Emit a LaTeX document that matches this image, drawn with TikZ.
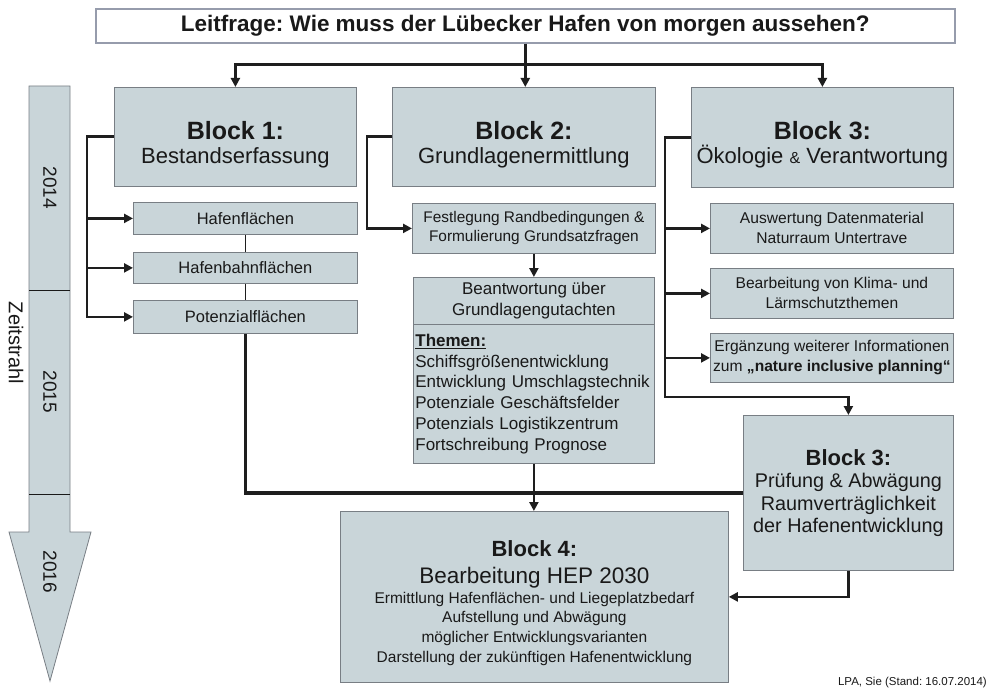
\documentclass[tikz,border=0pt]{standalone}
\usepackage{fontspec}
\setmainfont{Liberation Sans}
\usetikzlibrary{arrows.meta,calc}
\definecolor{boxfill}{RGB}{201,213,217}
\definecolor{boxline}{RGB}{120,126,132}
\definecolor{titleline}{RGB}{150,156,172}
\definecolor{ink}{RGB}{25,25,25}
\definecolor{wirecol}{RGB}{30,30,30}
\newcommand{\fs}[2]{\fontsize{#1}{#2}\selectfont}
\begin{document}
\frenchspacing
\begin{tikzpicture}[x=1pt,y=-1pt,
  box/.style={draw=boxline, line width=0.8pt, fill=boxfill, text=ink, align=center, inner sep=0pt, anchor=north west},
  bigbox/.style={box, font=\fs{22}{26}, text height=57pt},
  wire/.style={draw=wirecol, line width=2.8pt},
  arr/.style={wire, -{Triangle[length=9pt,width=9pt]}},
  thinwire/.style={draw=wirecol, line width=1.6pt}]
\useasboundingbox (0,0) rectangle (988,698);

% timeline
\draw[draw=boxline, line width=0.8pt, fill=boxfill] (29,86) -- (70,86) -- (70,532) -- (91,532) -- (50,681) -- (9,532) -- (29,532) -- cycle;
\draw[line width=1pt, ink] (29,290) -- (70,290);
\draw[line width=1pt, ink] (29,494) -- (70,494);
\node[rotate=-90, text=ink, font=\fs{19}{22}] (y14) at (50,188) {2014};
\node[rotate=-90, text=ink, font=\fs{19}{22}] (y15) at (50,392) {2015};
\node[rotate=-90, text=ink, font=\fs{19}{22}] (y16) at (50,572) {2016};
\node[rotate=-90, text=ink, font=\fs{20}{23}] (zs) at (16,343) {Zeitstrahl};

% title
\node[draw=titleline, line width=1.6pt, fill=white, text=ink, minimum width=859pt, minimum height=34pt, anchor=north west, inner sep=0pt, font=\fs{22.5}{26}\bfseries] (title) at (95,8) {Leitfrage: Wie muss der Lübecker Hafen von morgen aussehen?};

% blocks
\node[bigbox, minimum width=242pt, minimum height=99pt] (b1) at (114,87)
  {{\fs{25}{26}\bfseries Block 1:}\\[-2pt]Bestandserfassung};
\node[bigbox, minimum width=263pt, minimum height=99pt] (b2) at (392,87)
  {{\fs{25}{26}\bfseries Block 2:}\\[-2pt]Grundlagenermittlung};
\node[bigbox, minimum width=262pt, minimum height=100pt] (b3) at (691,87)
  {{\fs{25}{26}\bfseries Block 3:}\\[-2pt]Ökologie {\fs{16}{16}\&} Verantwortung};

\node[box, minimum width=224pt, minimum height=32pt, font=\fs{16.5}{20}] (hf) at (133,202) {Hafenflächen};
\node[box, minimum width=224pt, minimum height=31pt, font=\fs{16.5}{20}] (hb) at (133,252) {Hafenbahnflächen};
\node[box, minimum width=224pt, minimum height=33pt, font=\fs{16.5}{20}] (pf) at (133,300) {Potenzialflächen};

\node[box, minimum width=243pt, minimum height=50pt, font=\fs{15.4}{19}] (fest) at (412,203)
  {Festlegung Randbedingungen \&\\Formulierung Grundsatzfragen};
\node[box, minimum width=241pt, minimum height=47pt, font=\fs{17}{21}] (btop) at (413,277)
  {Beantwortung über\\Grundlagengutachten};
\node[box, align=left, text width=237pt, inner xsep=2pt, minimum height=139pt, font=\fs{17}{20.7}] (themen) at (413,324)
  {\underline{\textbf{Themen:}}\\Schiffsgrößenentwicklung\\Entwicklung Umschlagstechnik\\Potenziale Geschäftsfelder\\Potenzials Logistikzentrum\\Fortschreibung Prognose};

\node[box, minimum width=243pt, minimum height=50pt, font=\fs{15.6}{20}] (r1) at (710,203)
  {Auswertung Datenmaterial\\Naturraum Untertrave};
\node[box, minimum width=243pt, minimum height=50pt, font=\fs{15.6}{20}] (r2) at (710,268)
  {Bearbeitung von Klima- und\\Lärmschutzthemen};
\node[box, minimum width=243pt, minimum height=49pt, font=\fs{15.6}{20}] (r3) at (710,333)
  {Ergänzung weiterer Informationen\\zum \textbf{„nature inclusive planning“}};

\node[box, minimum width=210pt, minimum height=155pt, font=\fs{19.8}{22.5}] (b3b) at (743,415)
  {{\fs{22}{22.5}\bfseries Block 3:}\\Prüfung \& Abwägung\\Raumverträglichkeit\\der Hafenentwicklung};

\node[box, minimum width=388pt, minimum height=171pt, font=\fs{15.5}{19.7}, text height=134pt] (b4) at (340,511)
  {{\fs{22}{24}\bfseries Block 4:}\\[7pt]{\fs{22.5}{24}Bearbeitung HEP 2030}\\[0pt]Ermittlung Hafenflächen- und Liegeplatzbedarf\\Aufstellung und Abwägung\\möglicher Entwicklungsvarianten\\Darstellung der zukünftigen Hafenentwicklung};

\node[anchor=east, text=ink, inner sep=0pt, font=\fs{11.5}{13}] (foot) at (987,683) {LPA, Sie (Stand: 16.07.2014)};

% connectors
\draw[wire] (title.south) -- ++(0,21) coordinate (tj);
\draw[arr] (tj) -| (b1.north);
\draw[arr] (tj) -| (b3.north);
\draw[arr] (tj) -- (tj |- b2.north);

\draw[arr] (b1.west) -- ++(-27,0) coordinate (c1) |- (pf.west);
\draw[arr] (c1 |- hf.west) -- (hf.west);
\draw[arr] (c1 |- hb.west) -- (hb.west);
\draw[thinwire] (hf.south) -- (hb.north);
\draw[thinwire] (hb.south) -- (pf.north);

\draw[arr] (b2.west) -- ++(-25,0) |- (fest.west);
\draw[arr] (fest.south) -- (fest.south |- btop.north);

\draw[arr] (b3.west) -- ++(-26,0) coordinate (c3) |- ($(b3b.north)+(0,-18)$) -- (b3b.north);
\draw[arr] (c3 |- r1.west) -- (r1.west);
\draw[arr] (c3 |- r2.west) -- (r2.west);
\draw[arr] (c3 |- r3.west) -- (r3.west);

\draw[wire, line width=3.5pt] (pf.south) |- (b3b.west);
\draw[arr] (themen.south) -- (themen.south |- b4.north);
\draw[arr] (b3b.south) |- (b4.east);
\end{tikzpicture}
\end{document}
